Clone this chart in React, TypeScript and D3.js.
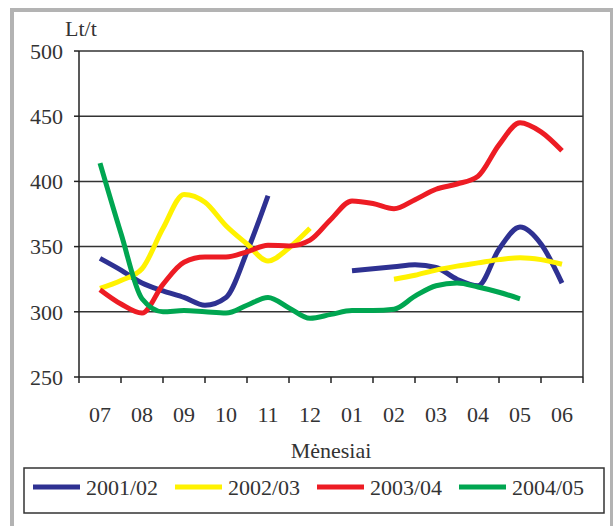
import React from "react";
import * as d3 from "d3";

const months = ["07", "08", "09", "10", "11", "12", "01", "02", "03", "04", "05", "06"];
// half-month sampling positions (month index)
const periods = [0, 0.5, 1, 1.5, 2, 2.5, 3, 3.5, 4, 4.5, 5, 5.5, 6, 6.5, 7, 7.5, 8, 8.5, 9, 9.5, 10, 10.5, 11];

const s2001 = [341, 332, 322, 316, 311, 305, 311, 346, 389, null, null, null, 331.5, 333, 334.5, 336, 334, 325, 320, 348, 365, 352, 322];
const s2002 = [318, 324, 333, 364, 390, 384, 366, 352, 339, 349, 364, null, null, null, 325, 328, 332, 335, 337.5, 340, 341.5, 340, 336.5];
const s2003 = [317, 306, 299, 321, 338, 342, 342, 346, 351, 350.5, 355, 371, 385, 383, 379, 386, 394, 398, 404, 428, 445, 438, 423.5];
const s2004 = [414, 360, 310, 300, 301, 300, 299, 305, 311, 303, 295, 298, 301, 301, 302, 312, 320, 322, 319, 315, 310, null, null];

const yTicks = [250, 300, 350, 400, 450, 500];
const gridValues = [300, 350, 400, 450, 500];

const seriesNames = ["2001/02", "2002/03", "2003/04", "2004/05"];
const seriesColors = ["#2e3192", "#fff200", "#ed1c24", "#00a651"];
const seriesData = [s2001, s2002, s2003, s2004];

const FONT = "Liberation Serif, DejaVu Serif, serif";
const txt = { fontFamily: FONT, fontSize: 22, fill: "#333" } as React.CSSProperties;

export default function App() {
  const W = 613, H = 526;
  const left = 79, right = 583, top = 51, bottom = 377;
  const x = d3.scaleLinear().domain([-0.5, 11.5]).range([left, right]);
  const y = d3.scaleLinear().domain([250, 500]).range([bottom, top]);

  const line = d3
    .line<number | null>()
    .defined((d) => d !== null)
    .x((_, i) => x(periods[i]))
    .y((d) => y(d as number))
    .curve(d3.curveMonotoneX);

  const boundaries = d3.range(months.length + 1).map((k) => k - 0.5);

  const legendX0 = 33;
  const legendStep = 142;

  return (
    <svg
      width={W}
      height={H}
      style={{ position: "absolute", left: 0, top: 0, background: "#fff", fontFamily: FONT }}
    >
      <rect x={12} y={10} width={600} height={530} fill="#fff" stroke="#b3b3b3" strokeWidth={4} />

      {gridValues.map((v) => (
        <line key={v} x1={left} x2={right} y1={y(v)} y2={y(v)} stroke="#333" strokeWidth={1.5} />
      ))}
      <line x1={left} x2={left} y1={top} y2={bottom} stroke="#222" strokeWidth={1.5} />
      <line x1={right} x2={right} y1={top} y2={bottom} stroke="#333" strokeWidth={1.5} />
      <line x1={left} x2={right} y1={bottom} y2={bottom} stroke="#222" strokeWidth={1.5} />

      {yTicks.map((v) => (
        <g key={v}>
          <line x1={left - 5} x2={left} y1={y(v)} y2={y(v)} stroke="#222" strokeWidth={1.5} />
          <text x={63} y={y(v)} dy="0.35em" textAnchor="end" style={txt}>
            {v}
          </text>
        </g>
      ))}
      {boundaries.map((b) => (
        <line key={b} x1={x(b)} x2={x(b)} y1={bottom} y2={bottom + 6} stroke="#222" strokeWidth={1.5} />
      ))}
      {months.map((m, i) => (
        <text key={m} x={x(i)} y={422} textAnchor="middle" style={txt}>
          {m}
        </text>
      ))}

      <text x={65} y={36} style={txt}>Lt/t</text>
      <text x={(left + right) / 2} y={458} textAnchor="middle" style={txt}>
        Mėnesiai
      </text>

      {seriesData.map((s, k) => (
        <path
          key={seriesNames[k]}
          d={line(s) || ""}
          fill="none"
          stroke={seriesColors[k]}
          strokeWidth={5}
          strokeLinejoin="round"
          strokeLinecap="butt"
        />
      ))}

      <rect x={24} y={468} width={580} height={45} fill="#fff" stroke="#333" strokeWidth={1.5} />
      {seriesNames.map((n, k) => (
        <g key={n} transform={`translate(${legendX0 + k * legendStep},0)`}>
          <line x1={0} x2={47} y1={487} y2={487} stroke={seriesColors[k]} strokeWidth={5} />
          <text x={53} y={495} style={txt}>
            {n}
          </text>
        </g>
      ))}
    </svg>
  );
}
